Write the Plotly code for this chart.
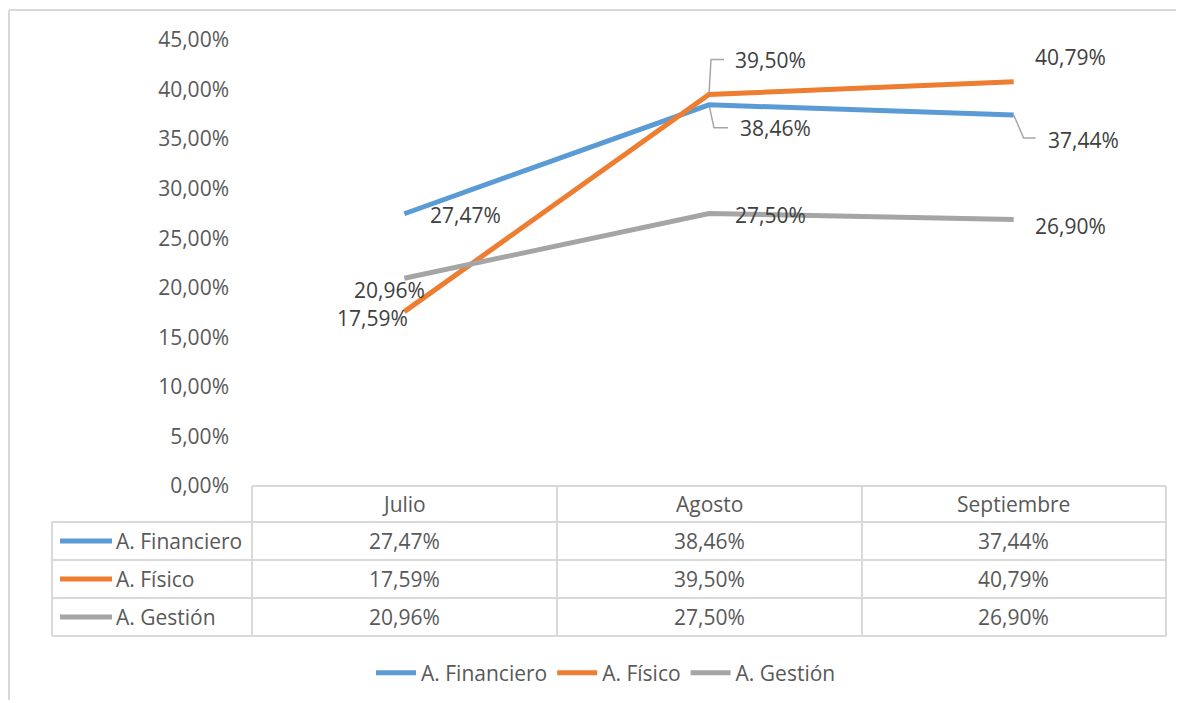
import plotly.graph_objects as go

meses = ["Julio", "Agosto", "Septiembre"]
financiero = [27.47, 38.46, 37.44]
fisico = [17.59, 39.50, 40.79]
gestion = [20.96, 27.50, 26.90]
y_ticks = [0, 5, 10, 15, 20, 25, 30, 35, 40, 45]

series = [
    ("A. Financiero", financiero, "#5b9bd5"),
    ("A. Físico", fisico, "#ed7d31"),
    ("A. Gestión", gestion, "#a5a5a5"),
]

W, H = 1184, 703
OFF = 8  # page body margin
L, T = 252 - OFF, 40 - OFF
R, B = W - (1166 - OFF), H - (486 - OFF)
PW, PH = W - L - R, H - T - B
FONT = "Open Sans"
FS = 21
TXT = "#595959"
GRID = "#d9d9d9"


def fmt(v):
    return f"{v:.2f}".replace(".", ",") + "%"


def px_x(p):
    # page pixel -> paper x
    return (p - OFF - L) / PW


def px_y(p):
    # page pixel -> paper y
    return (H - B - (p - OFF)) / PH


fig = go.Figure()
x_idx = list(range(len(meses)))
for name, vals, color in series:
    fig.add_trace(go.Scatter(
        x=x_idx, y=vals, name=name, mode="lines",
        line=dict(color=color, width=5),
    ))

# data labels: (series, index, xanchor, xshift, yshift, leader path or None)
label_pos = [
    (0, 0, "left", 24, -1, None),
    (0, 1, "left", 29, -23, "M0,0 L5,-23 L19,-23"),
    (0, 2, "left", 32, -25, "M0,0 L10,-23 L22,-23"),
    (1, 0, "right", 6, -6, None),
    (1, 1, "left", 24, 35, "M0,0 L2,35 L15,35"),
    (1, 2, "left", 19, 25, None),
    (2, 0, "right", 23, -12, None),
    (2, 1, "left", 24, -2, None),
    (2, 2, "left", 19, -7, None),
]
annotations = []
shapes = []
for si, i, xa, xs, ys, path in label_pos:
    v = series[si][1][i]
    annotations.append(dict(
        x=x_idx[i], y=v, xref="x", yref="y", text=fmt(v), showarrow=False,
        xanchor=xa, yanchor="middle", xshift=xs, yshift=ys,
        font=dict(family=FONT, size=FS, color="#404040"),
    ))
    if path:
        shapes.append(dict(
            type="path", xref="x", yref="y", xsizemode="pixel", ysizemode="pixel",
            xanchor=x_idx[i], yanchor=v, path=path,
            line=dict(color="#a6a6a6", width=1.5), layer="below",
        ))

# data table under the plot (page pixels)
row_px = [486, 522, 560, 598, 636]
col_px = [252, 557, 862, 1166]
left_px = 52

shapes.append(dict(type="line", xref="paper", yref="paper",
                   x0=px_x(col_px[0]), x1=px_x(col_px[-1]), y0=px_y(row_px[0]), y1=px_y(row_px[0]),
                   line=dict(color=GRID, width=2)))
for rp in row_px[1:]:
    shapes.append(dict(type="line", xref="paper", yref="paper",
                       x0=px_x(left_px), x1=px_x(col_px[-1]), y0=px_y(rp), y1=px_y(rp),
                       line=dict(color=GRID, width=2)))
for cp in col_px:
    shapes.append(dict(type="line", xref="paper", yref="paper",
                       x0=px_x(cp), x1=px_x(cp), y0=px_y(row_px[0]), y1=px_y(row_px[-1]),
                       line=dict(color=GRID, width=2)))
shapes.append(dict(type="line", xref="paper", yref="paper",
                   x0=px_x(left_px), x1=px_x(left_px), y0=px_y(row_px[1]), y1=px_y(row_px[-1]),
                   line=dict(color=GRID, width=2)))

# header
for i, m in enumerate(meses):
    annotations.append(dict(
        x=i, y=px_y((row_px[0] + row_px[1]) / 2), xref="x", yref="paper", text=m,
        showarrow=False, xanchor="center", yanchor="middle",
        font=dict(family=FONT, size=FS, color=TXT),
    ))
# rows
for r, (name, vals, color) in enumerate(series):
    yc = px_y((row_px[r + 1] + row_px[r + 2]) / 2)
    shapes.append(dict(type="line", xref="paper", yref="paper",
                       x0=px_x(60), x1=px_x(112), y0=yc, y1=yc,
                       line=dict(color=color, width=5)))
    annotations.append(dict(
        x=px_x(114), y=yc, xref="paper", yref="paper", text=name, showarrow=False,
        xanchor="left", yanchor="middle", font=dict(family=FONT, size=FS, color=TXT),
    ))
    for i, v in enumerate(vals):
        annotations.append(dict(
            x=i, y=yc, xref="x", yref="paper", text=fmt(v), showarrow=False,
            xanchor="center", yanchor="middle", font=dict(family=FONT, size=FS, color=TXT),
        ))

# chart frame (top and left edge)
shapes.append(dict(type="line", xref="paper", yref="paper",
                   x0=px_x(9), x1=px_x(1200), y0=px_y(10), y1=px_y(10),
                   line=dict(color=GRID, width=2)))
shapes.append(dict(type="line", xref="paper", yref="paper",
                   x0=px_x(9), x1=px_x(9), y0=px_y(10), y1=px_y(700),
                   line=dict(color=GRID, width=2)))

fig.update_layout(
    width=W, height=H,
    margin=dict(l=L, r=R, t=T, b=B),
    paper_bgcolor="white", plot_bgcolor="white",
    font=dict(family=FONT, size=FS, color=TXT),
    xaxis=dict(range=[-0.5, 2.5], showticklabels=False, showgrid=False,
               zeroline=False, showline=False),
    yaxis=dict(range=[0, 45], tickvals=y_ticks, ticktext=[fmt(t) for t in y_ticks],
               showgrid=False, zeroline=False, showline=False, ticklabelstandoff=22,
               tickfont=dict(family=FONT, size=FS, color=TXT)),
    showlegend=True,
    legend=dict(orientation="h", xref="container", yref="container",
                x=(606 - OFF) / W, y=(H - (673 - OFF)) / H, xanchor="center", yanchor="middle",
                font=dict(family=FONT, size=FS, color=TXT), itemwidth=40,
                tracegroupgap=0),
    shapes=shapes,
    annotations=annotations,
)

fig.write_html("out.html")
